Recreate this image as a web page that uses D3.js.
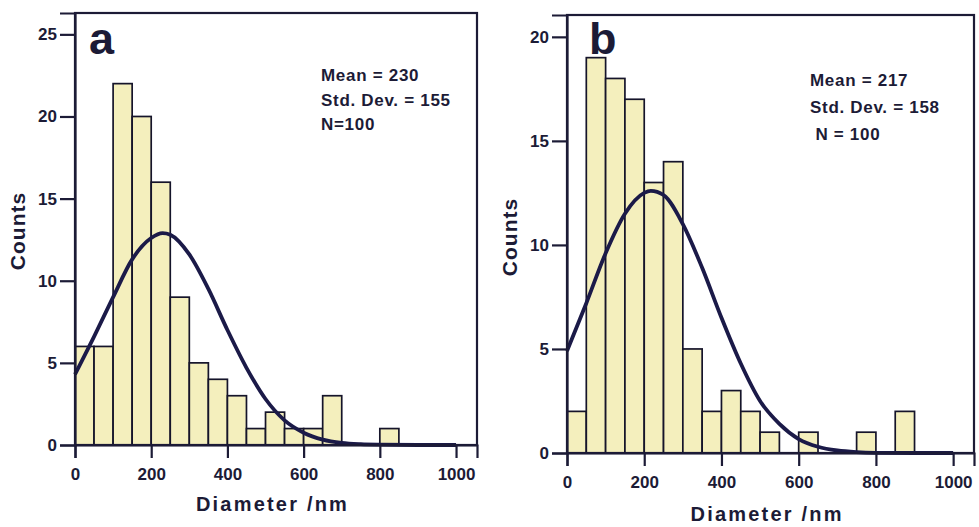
<!DOCTYPE html>
<html lang="en">
<head>
<meta charset="UTF-8">
<title>Diameter histograms</title>
<script src="https://d3js.org/d3.v7.min.js"></script>
<style>
  body { margin: 0; background: #fff; }
  text { font-family: "Liberation Sans", Arial, sans-serif; font-weight: bold; fill: #1c1b36; }
</style>
</head>
<body>
<div id="chart"></div>
<script>
// bins are 50 nm wide, starting at these diameters
var binStarts = [0, 50, 100, 150, 200, 250, 300, 350, 400, 450, 500, 550, 600, 650, 700, 750, 800, 850, 900, 950];
var countsA = [6, 6, 22, 20, 16, 9, 5, 4, 3, 1, 2, 1, 1, 3, 0, 0, 1, 0, 0, 0];
var countsB = [2, 19, 18, 17, 13, 14, 5, 2, 3, 2, 1, 0, 1, 0, 0, 1, 0, 2, 0, 0];

// fitted curve
var curveXA = [0, 50, 100, 150, 200, 230, 250, 300, 350, 400, 450, 500, 550, 600, 650, 700, 750, 800, 900, 1000];
var curveYA = [4.3, 6.6, 9.0, 11.3, 12.6, 12.9, 12.8, 11.6, 9.5, 7.0, 4.7, 2.8, 1.5, 0.75, 0.33, 0.13, 0.05, 0.02, 0, 0];
var curveXB = [0, 50, 100, 150, 200, 217, 250, 300, 350, 400, 450, 500, 550, 600, 650, 700, 750, 800, 900, 1000];
var curveYB = [4.9, 7.2, 9.6, 11.5, 12.5, 12.6, 12.4, 11.0, 8.9, 6.5, 4.3, 2.5, 1.4, 0.67, 0.3, 0.12, 0.04, 0.01, 0, 0];

var xTicks = [0, 200, 400, 600, 800, 1000];
var yTicksA = [0, 5, 10, 15, 20, 25];
var yTicksB = [0, 5, 10, 15, 20];
var statsA = ["Mean = 230", "Std. Dev. = 155", "N=100"];
var statsB = ["Mean = 217", "Std. Dev. = 158", " N = 100"];

var svg = d3.select("#chart").append("svg")
  .attr("width", 979)
  .attr("height", 527);

var ink = "#1c1b36";

function panel(p) {
  var x = d3.scaleLinear().domain([0, p.xMax]).range([p.left, p.right]);
  var y = d3.scaleLinear().domain([0, p.yMax]).range([p.bottom, p.top]);
  var g = svg.append("g");

  // bars
  g.selectAll("rect.bar")
    .data(binStarts.map(function(s, i) { return {s: s, c: p.counts[i]}; })
      .filter(function(d) { return d.c > 0; }))
    .enter().append("rect")
      .attr("class", "bar")
      .attr("x", function(d) { return x(d.s); })
      .attr("y", function(d) { return y(d.c); })
      .attr("width", function(d) { return x(d.s + 50) - x(d.s); })
      .attr("height", function(d) { return y(0) - y(d.c); })
      .attr("fill", "#f4efbd")
      .attr("stroke", "#15142a")
      .attr("stroke-width", 1.7);

  // fitted curve
  var line = d3.line()
    .x(function(d) { return x(d[0]); })
    .y(function(d) { return y(d[1]); })
    .curve(d3.curveMonotoneX);
  g.append("path")
    .datum(p.cx.map(function(v, i) { return [v, p.cy[i]]; }))
    .attr("d", line)
    .attr("fill", "none")
    .attr("stroke", "#1b1a48")
    .attr("stroke-width", 3.8);

  // frame
  g.append("rect")
    .attr("x", p.left).attr("y", p.top)
    .attr("width", p.right - p.left).attr("height", p.bottom - p.top)
    .attr("fill", "none").attr("stroke", ink).attr("stroke-width", 2.2);

  // axes
  var xAxis = g.append("g")
    .attr("transform", "translate(0," + p.bottom + ")")
    .call(d3.axisBottom(x).tickValues(xTicks).tickSize(13).tickPadding(10).tickFormat(d3.format("d")));
  var yAxis = g.append("g")
    .attr("transform", "translate(" + p.left + ",0)")
    .call(d3.axisLeft(y).tickValues(p.yTicks).tickSize(15).tickPadding(3).tickFormat(d3.format("d")));
  [xAxis, yAxis].forEach(function(a) {
    a.select(".domain").attr("stroke", ink).attr("stroke-width", 2.2);
    a.selectAll(".tick line").attr("stroke", ink).attr("stroke-width", 2.2);
    a.selectAll(".tick text")
      .style("font-size", "17px").style("font-family", "Liberation Sans, Arial, sans-serif")
      .style("font-weight", "bold").attr("fill", ink);
  });

  // panel letter
  g.append("text")
    .attr("x", p.letterX).attr("y", p.letterY)
    .style("font-size", "45px")
    .text(p.letter);

  // stats
  g.selectAll("text.stat")
    .data(p.stats)
    .enter().append("text")
      .attr("class", "stat")
      .attr("x", p.statX)
      .attr("y", function(d, i) { return p.statY + i * p.statGap; })
      .style("font-size", "17px")
      .style("letter-spacing", "0.7px")
      .style("white-space", "pre")
      .text(function(d) { return d; });

  // axis titles
  g.append("text")
    .attr("x", (x(0) + x(1000)) / 2 + 7).attr("y", p.xTitleY)
    .attr("text-anchor", "middle")
    .style("font-size", "20px")
    .style("letter-spacing", "2.2px")
    .text("Diameter /nm");
  g.append("text")
    .attr("transform", "translate(" + p.yTitleX + "," + p.yTitleY + ") rotate(-90)")
    .attr("text-anchor", "middle")
    .style("font-size", "21px")
    .style("letter-spacing", "1px")
    .text("Counts");
}

panel({
  counts: countsA, cx: curveXA, cy: curveYA, yTicks: yTicksA, stats: statsA,
  left: 75, right: 477, top: 13, bottom: 445, xMax: 1055, yMax: 26.3,
  letter: "a", letterX: 89, letterY: 54,
  statX: 321, statY: 81, statGap: 24.5,
  xTitleY: 511, yTitleX: 25, yTitleY: 231
});

panel({
  counts: countsB, cx: curveXB, cy: curveYB, yTicks: yTicksB, stats: statsB,
  left: 567, right: 974, top: 15, bottom: 453, xMax: 1054, yMax: 21.05,
  letter: "b", letterX: 589, letterY: 54,
  statX: 810, statY: 86, statGap: 27,
  xTitleY: 521, yTitleX: 517, yTitleY: 237
});
</script>
</body>
</html>
